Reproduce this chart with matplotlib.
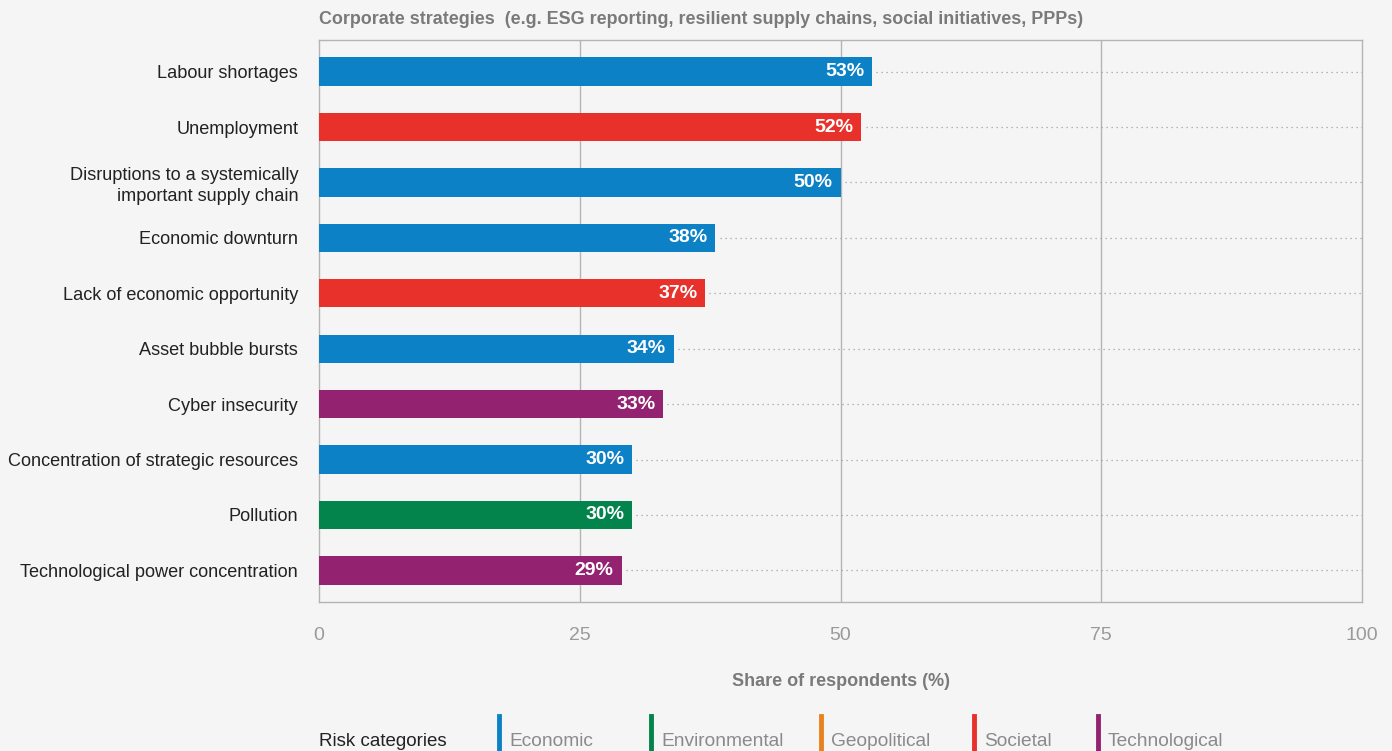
import matplotlib.pyplot as plt
from matplotlib.lines import Line2D

# --------------------------------------------------
# Data
# --------------------------------------------------
risks = [
    "Labour shortages",
    "Unemployment",
    "Disruptions to a systemically\nimportant supply chain",
    "Economic downturn",
    "Lack of economic opportunity",
    "Asset bubble bursts",
    "Cyber insecurity",
    "Concentration of strategic resources",
    "Pollution",
    "Technological power concentration",
]
shares = [53, 52, 50, 38, 37, 34, 33, 30, 30, 29]
categories = ["Economic", "Societal", "Economic", "Economic", "Societal",
              "Economic", "Technological", "Economic", "Environmental",
              "Technological"]

legend_names = ["Economic", "Environmental", "Geopolitical", "Societal", "Technological"]
colors = {
    "Economic": "#0c81c5",
    "Environmental": "#03844d",
    "Geopolitical": "#e8821e",
    "Societal": "#e8312b",
    "Technological": "#932271",
}

BG = "#f5f5f5"
GRID = "#b4b4b4"
TXT = "#222222"
GREY = "#7a7a7a"
plt.rcParams["font.family"] = ["Liberation Sans", "DejaVu Sans"]

# --------------------------------------------------
# Figure
# --------------------------------------------------
fig = plt.figure(figsize=(13.92, 7.51), dpi=100, facecolor=BG)
ax = fig.add_axes([0.2292, 0.1984, 0.7493, 0.7483], facecolor=BG)

ypos = list(range(len(risks)))
bar_colors = [colors[c] for c in categories]
ax.barh(ypos, shares, height=0.51, color=bar_colors, zorder=3)

# dotted leader lines from bar end to right edge
for y, v in zip(ypos, shares):
    ax.plot([v + 0.4, 100], [y, y], linestyle=(0, (1, 3)), color="#a0a0a0",
            linewidth=0.9, zorder=2)
    ax.text(v - 0.75, y, f"{v}%", ha="right", va="center", color="white",
            fontsize=14, fontweight="bold", zorder=4)

ax.set_xlim(0, 100)
ax.set_ylim(9.57, -0.57)
ax.set_xticks([0, 25, 50, 75, 100])
ax.set_xticklabels(["0", "25", "50", "75", "100"])
ax.tick_params(axis="x", length=0, pad=18, labelsize=14, labelcolor="#9a9a9a")
ax.set_yticks(ypos)
ax.set_yticklabels(risks, fontsize=13.1, color=TXT, linespacing=1.3)
ax.tick_params(axis="y", length=0, pad=15)

for x in [25, 50, 75]:
    ax.axvline(x, color=GRID, linewidth=1, zorder=1)
for s in ax.spines.values():
    s.set_color(GRID)
    s.set_linewidth(1)

ax.set_xlabel("Share of respondents (%)", fontsize=13, fontweight="bold",
              color=GREY, labelpad=21)

fig.text(319 / 1392, 1 - 20 / 751,
         "Corporate strategies  (e.g. ESG reporting, resilient supply chains, social initiatives, PPPs)",
         fontsize=12.9, fontweight="bold", color=GREY, ha="left", va="center")

# --------------------------------------------------
# Legend
# --------------------------------------------------
ly = 1 - 741.5 / 751
fig.text(319 / 1392, ly, "Risk categories", fontsize=13.5, color=TXT,
         ha="left", va="center")
legend_x = [499, 651, 821, 974, 1098]
for name, lx in zip(legend_names, legend_x):
    fig.add_artist(Line2D([lx / 1392, lx / 1392], [ly - 0.016, ly + 0.034],
                          color=colors[name], linewidth=3.5,
                          transform=fig.transFigure))
    fig.text((lx + 10) / 1392, ly, name, fontsize=13.8, color="#8a8a8a",
             ha="left", va="center")

fig.savefig("out.png", dpi=100, facecolor=BG)
